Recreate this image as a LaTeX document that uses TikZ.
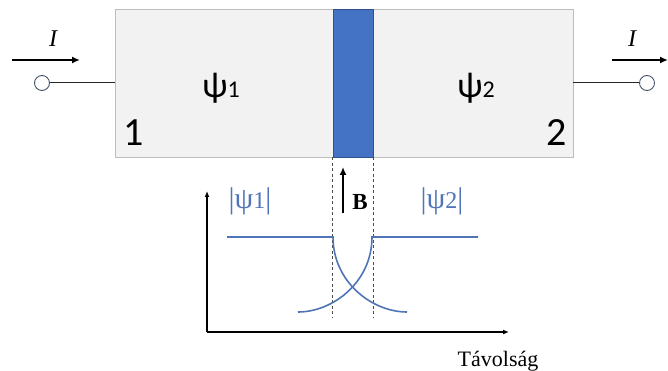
\documentclass[tikz,border=0pt]{standalone}
\usepackage{fontspec}
\setmainfont{Liberation Serif}
\setsansfont{Carlito}
\usepackage{xcolor}
\definecolor{qbar}{HTML}{4472C4}
\definecolor{qbarline}{HTML}{2F528F}
\definecolor{qwave}{HTML}{4F74B8}
\definecolor{qbox}{HTML}{F2F2F2}
\definecolor{qboxline}{HTML}{BDBDBD}
\definecolor{qterm}{HTML}{44546A}
\usetikzlibrary{arrows.meta,positioning,calc}

\begin{document}
\begin{tikzpicture}[
  x=1pt,y=-1pt,
  box/.style={rectangle,draw=qboxline,fill=qbox,line width=0.9pt,inner sep=0pt},
  barrier/.style={rectangle,draw=qbarline,fill=qbar,line width=0.9pt,inner sep=0pt},
  term/.style={circle,draw=qterm,fill=white,line width=0.9pt,minimum size=15pt,inner sep=0pt},
  wire/.style={draw=black!85,line width=1pt},
  arr/.style={-{Latex[length=8pt,width=7pt]},line width=1.8pt},
  ax/.style={-{Latex[length=6pt,width=5pt]},line width=1.6pt},
  wave/.style={draw=qwave,line width=1.6pt},
  guide/.style={draw=black!70,line width=1.1pt,dash pattern=on 3pt off 2.5pt},
  big/.style={font=\sffamily\fontsize{40}{42}\selectfont,inner sep=0pt,anchor=base},
  psi/.style={font=\sffamily\fontsize{36}{38}\selectfont,inner sep=0pt,anchor=base},
  cur/.style={font=\itshape\fontsize{24}{26}\selectfont,inner sep=0pt,anchor=base},
  amp/.style={font=\fontsize{30}{32}\selectfont,text=qwave,inner sep=0pt,anchor=base},
  txt/.style={font=\fontsize{22}{24}\selectfont,inner sep=0pt,anchor=base}
]
\useasboundingbox (0,0) rectangle (668,371);

% device with the barrier
\node[box,minimum width=458pt,minimum height=148pt] (dev) at (344,83) {};
\node[barrier,minimum width=40pt,minimum height=148pt] (bar) at (353,83) {};
\node[psi] (psi1) at (221,98) {ψ{\fontsize{24}{26}\selectfont 1}};
\node[psi] (psi2) at (476,98) {ψ{\fontsize{24}{26}\selectfont 2}};
\node[big] (n1) at (134,146) {1};
\node[big] (n2) at (557,146) {2};

% terminals and currents
\node[term] (t1) at (42,83) {};
\node[term] (t2) at (647,83) {};
\draw[wire] (t1) -- (dev.west);
\draw[wire] (dev.east) -- (t2);
\coordinate (i1s) at (12,60);  \coordinate (i1e) at (80,60);
\coordinate (i2s) at (612,60); \coordinate (i2e) at (668,60);
\draw[arr] (i1s) -- (i1e);
\draw[arr] (i2s) -- (i2e);
\node[cur] (cur1) at (53,47) {I};
\node[cur] (cur2) at (632,47) {I};

% amplitudes vs. distance
\coordinate (o) at (207,332);
\coordinate (ytop) at (207,191);
\coordinate (xend) at (509,332);
\draw[ax] (o) -- (ytop);
\draw[ax] (o) -- (xend);
\node[txt] (dist) at (498,366) {Távolság};

\draw[guide] (bar.south west) -- ++(0,161) coordinate (g1);
\draw[guide] (bar.south east) -- ++(0,161) coordinate (g2);

\coordinate (l1) at (227,237); \coordinate (j1) at (333,237);
\coordinate (r2) at (478,237); \coordinate (j2) at (372,237);
\coordinate (d1) at (407,312); \coordinate (d2) at (298,312);
\draw[wave] (l1) -- (j1) .. controls +(0,45) and +(-35,0) .. (d1);
\draw[wave] (r2) -- (j2) .. controls +(0,45) and +(35,0) .. (d2);
\node[amp] (a1) at (250,208) {|ψ{\fontsize{24}{26}\selectfont 1}|};
\node[amp] (a2) at (442,208) {|ψ{\fontsize{24}{26}\selectfont 2}|};

% field through the barrier
\coordinate (bs) at (343,213); \coordinate (be) at (343,167);
\draw[-{Latex[length=8pt,width=7pt]},line width=2.6pt] (bs) -- (be);
\node[txt,font=\bfseries\fontsize{23}{25}\selectfont] (fld) at (360,209) {B};
\end{tikzpicture}
\end{document}
